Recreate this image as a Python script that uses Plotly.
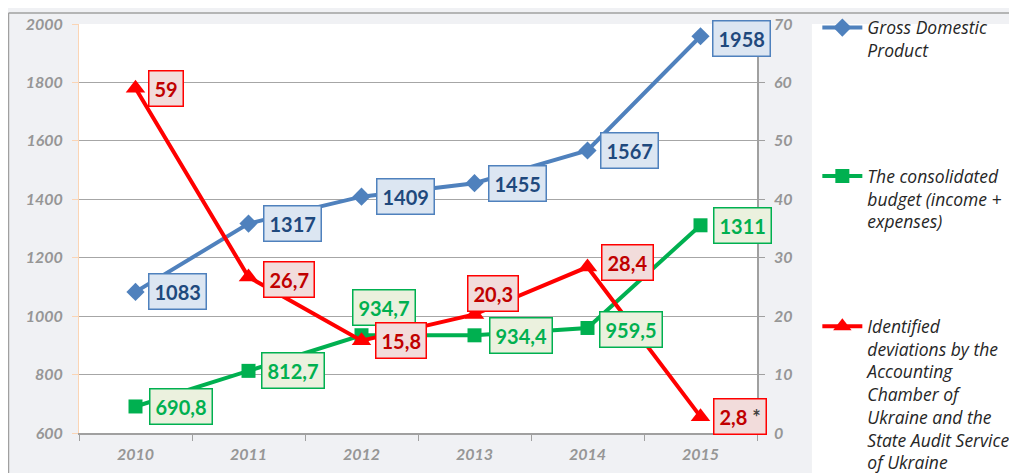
import plotly.graph_objects as go

years = ["2010", "2011", "2012", "2013", "2014", "2015"]
gdp = [1083, 1317, 1409, 1455, 1567, 1958]
budget = [690.8, 812.7, 934.7, 934.4, 959.5, 1311]
deviations = [59, 26.7, 15.8, 20.3, 28.4, 2.8]

gdp_labels = ["1083", "1317", "1409", "1455", "1567", "1958"]
budget_labels = ["690,8", "812,7", "934,7", "934,4", "959,5", "1311"]
dev_labels = ["59", "26,7", "15,8", "20,3", "28,4", "2,8 <span style='color:#404040'>*</span>"]

# label offsets (pixels): (xshift, yshift) with left anchoring
gdp_off = [(12, 0), (14, 0), (14, 0), (13, 0), (12, 0), (11, -2)]
budget_off = [(13, 0), (12, 0), (-10, 28), (14, 0), (11, -2), (12, 0)]
dev_off = [(12, 0), (14, -2), (13, 0), (-8, 21), (13, 5), (12, 0)]

FONT = "Lato"
BLUE, BLUE_TXT, BLUE_BG = "#4F81BD", "#1F497D", "#DCE6F2"
GREEN, GREEN_TXT, GREEN_BG = "#00B050", "#00B050", "#EBF1DE"
RED, RED_TXT, RED_BG = "#FF0000", "#C00000", "#F2DCDB"

fig = go.Figure()
fig.add_trace(go.Scatter(
    x=years, y=gdp, mode="lines+markers", name="Gross Domestic<br>Product",
    line=dict(color=BLUE, width=4), marker=dict(symbol="diamond", size=14, color=BLUE),
    legend="legend"))
fig.add_trace(go.Scatter(
    x=years, y=budget, mode="lines+markers", name="The consolidated<br>budget (income +<br>expenses)",
    line=dict(color=GREEN, width=4), marker=dict(symbol="square", size=14, color=GREEN),
    legend="legend2"))
fig.add_trace(go.Scatter(
    x=years, y=deviations, mode="lines+markers", yaxis="y2",
    name="Identified<br>deviations by the<br>Accounting<br>Chamber of<br>Ukraine and the<br>State Audit Service<br>of Ukraine",
    line=dict(color=RED, width=4), marker=dict(symbol="triangle-up", size=17, color=RED),
    legend="legend3"))

annotations = []
def add_labels(vals, labels, offs, yref, txt, bg, border):
    for i, (v, lab, (dx, dy)) in enumerate(zip(vals, labels, offs)):
        annotations.append(dict(
            x=i, y=v, xref="x", yref=yref, text="<b>%s</b>" % lab, showarrow=False,
            xanchor="left", yanchor="middle", xshift=dx, yshift=dy,
            font=dict(family=FONT, size=20, color=txt),
            bgcolor=bg, bordercolor=border, borderwidth=1.5, borderpad=5))

add_labels(gdp, gdp_labels, gdp_off, "y", BLUE_TXT, BLUE_BG, BLUE)
add_labels(budget, budget_labels, budget_off, "y", GREEN_TXT, GREEN_BG, GREEN)
add_labels(deviations, dev_labels, dev_off, "y2", RED_TXT, RED_BG, RED)

tickfont = dict(family=FONT, size=16, color="#969696", style="italic", weight="bold")
legfont = dict(family="Open Sans", size=17.5, color="#262626", style="italic")

shapes = [
    # white legend area
    dict(type="rect", xref="paper", yref="paper", x0=1.081, x1=1.45, y0=-0.2, y1=1.0,
         fillcolor="white", line=dict(width=0), layer="below"),
    # outer border top and left
    dict(type="line", xref="paper", yref="paper", x0=-0.104, x1=1.45, y0=1.027, y1=1.027,
         line=dict(color="#A0A0A0", width=1.5)),
    dict(type="line", xref="paper", yref="paper", x0=-0.104, x1=-0.104, y0=-0.2, y1=1.027,
         line=dict(color="#A0A0A0", width=1.5)),
]

fig.update_layout(
    width=1017, height=473,
    margin=dict(l=71, r=268, t=16, b=48, autoexpand=False),
    paper_bgcolor="#F0F1F4", plot_bgcolor="white",
    showlegend=True,
    annotations=annotations, shapes=shapes,
    xaxis=dict(type="category", tickson="boundaries", ticks="outside", ticklen=6,
               tickcolor="#A0A0A0", showline=True, linecolor="#A0A0A0", linewidth=1.5,
               showgrid=False, tickfont=tickfont, range=[-0.5, 5.5], ticklabelstandoff=6),
    yaxis=dict(range=[600, 2000], dtick=200, showgrid=True, gridcolor="#A6A6A6", gridwidth=1.2,
               ticks="outside", ticklen=6, tickcolor="#FBD5B5", showline=True,
               linecolor="#FBD5B5", linewidth=1, tickfont=tickfont, zeroline=False,
               ticklabelstandoff=6),
    yaxis2=dict(range=[0, 70], dtick=10, overlaying="y", side="right", showgrid=False,
                ticks="outside", ticklen=6, tickcolor="#A0A0A0", showline=True,
                linecolor="#A0A0A0", linewidth=1.5, tickfont=tickfont, zeroline=False,
                ticklabelstandoff=6),
    legend=dict(x=1.089, y=1.035, xanchor="left", yanchor="top", bgcolor="rgba(0,0,0,0)",
                font=legfont, valign="top", itemwidth=40),
    legend2=dict(x=1.089, y=0.672, xanchor="left", yanchor="top", bgcolor="rgba(0,0,0,0)",
                 font=legfont, valign="top", itemwidth=40),
    legend3=dict(x=1.089, y=0.305, xanchor="left", yanchor="top", bgcolor="rgba(0,0,0,0)",
                 font=legfont, valign="top", itemwidth=40),
)

fig.write_html("out.html")
